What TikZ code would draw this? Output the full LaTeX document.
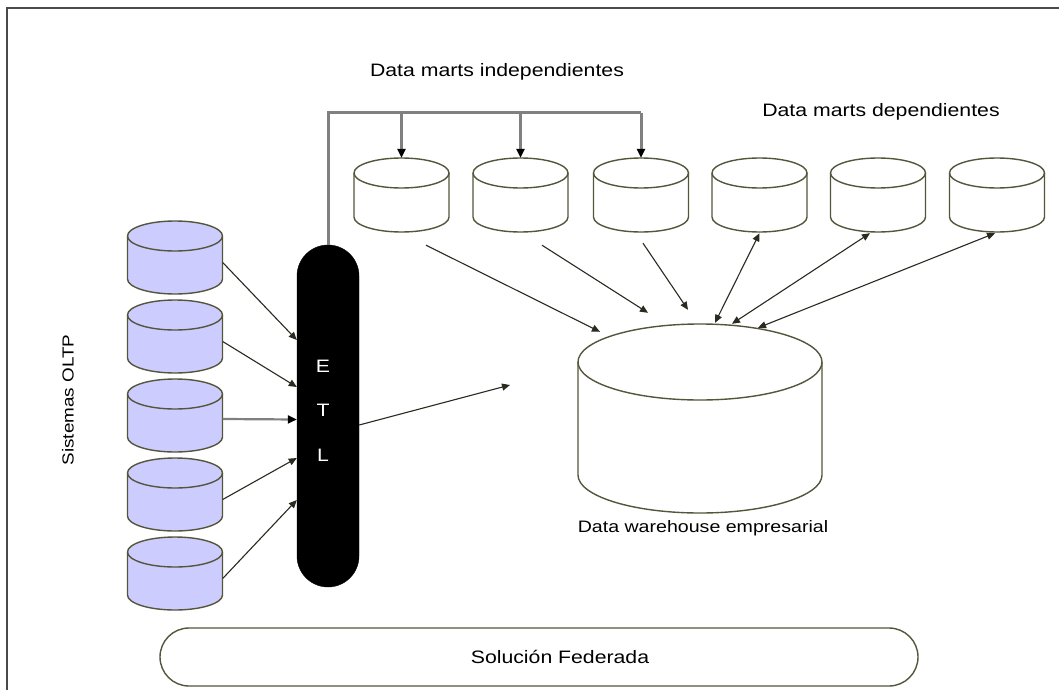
\documentclass[tikz,border=0pt]{standalone}
\usepackage{fontspec}
\usepackage{graphicx}
\usetikzlibrary{arrows.meta,calc}
\newfontfamily\lblfont{Liberation Sans}[FakeStretch=1.18]
\definecolor{oltpfill}{HTML}{CCCCFF}
\definecolor{cyledge}{HTML}{55553C}
\definecolor{conn}{HTML}{2A2A20}
\definecolor{busgray}{HTML}{808080}
\definecolor{framegray}{HTML}{4A4A4A}
\newcommand\dbcyl[7]{% name, cx, top px, rx, ry, total height, fill
  \pgfmathsetmacro\cyA{-(#3)-(#5)}%
  \pgfmathsetmacro\cyB{-(#3)-(#6)+(#5)}%
  \pgfmathsetmacro\cyM{-(#3)-(#6)/2}%
  \node[inner sep=0pt, minimum width={2*#4pt}, minimum height={#6pt}] (#1) at (#2,\cyM) {};
  \filldraw[cylline, fill=#7] (#2-#4,\cyA) -- (#2-#4,\cyB)
    arc[start angle=180, end angle=360, x radius=#4pt, y radius=#5pt]
    -- (#2+#4,\cyA)
    arc[start angle=0, end angle=180, x radius=#4pt, y radius=#5pt] -- cycle;
  \draw[cylline] (#2+#4,\cyA) arc[start angle=0, end angle=-180, x radius=#4pt, y radius=#5pt];
}
\tikzset{
  cylline/.style={draw=cyledge, line width=1.4pt},
  tip/.style={-{Triangle[length=8pt,width=7pt]}},
  btip/.style={-{Triangle[length=9pt,width=8pt,color=black]}},
  dtip/.style={{Triangle[length=8pt,width=7pt]}-{Triangle[length=8pt,width=7pt]}},
  conn/.style={draw=conn, line width=1.1pt},
  bus/.style={draw=busgray, line width=3pt},
  lbl/.style={font=\lblfont\fontsize{18}{20}\selectfont, text=black, inner sep=0pt},
  etlbox/.style={draw=black, fill=black, rounded corners=31pt, minimum width=62pt, minimum height=342pt, inner sep=0pt},
  etltext/.style={font=\lblfont\fontsize{18}{20}\selectfont, text=white, inner sep=0pt},
  fedbox/.style={draw=cyledge, line width=1.4pt, rounded corners=29pt, minimum width=758pt, minimum height=58pt, inner sep=0pt, font=\lblfont\fontsize{18}{20}\selectfont},
}
\begin{document}
\begin{tikzpicture}[x=1pt,y=1pt]
\useasboundingbox (0,0) rectangle (1059,-690);
\fill[white] (0,0) rectangle (1059,-690);
% frame
\draw[framegray, line width=2pt] (1059,-8) -- (7,-8) -- (7,-690);

% OLTP cylinders
\dbcyl{o1}{175}{221}{47.5}{15}{73}{oltpfill}
\dbcyl{o2}{175}{300}{47.5}{15}{73}{oltpfill}
\dbcyl{o3}{175}{379}{47.5}{15}{73}{oltpfill}
\dbcyl{o4}{175}{458}{47.5}{15}{73}{oltpfill}
\dbcyl{o5}{175}{537}{47.5}{15}{73}{oltpfill}

% data marts
\dbcyl{dmA}{401.5}{158}{47.5}{15}{74}{white}
\dbcyl{dmB}{520.5}{158}{47.5}{15}{74}{white}
\dbcyl{dmC}{641}{158}{47.5}{15}{74}{white}
\dbcyl{dmD}{759.5}{158}{47.5}{15}{74}{white}
\dbcyl{dmE}{878}{158}{47.5}{15}{74}{white}
\dbcyl{dmF}{997}{158}{47.5}{15}{74}{white}

% data warehouse
\dbcyl{dw}{700}{324}{122}{38}{189}{white}

% ETL
\node[etlbox] (etl) at (328,-416) {};
\node[etltext] (etlE) at (323,-366) {E};
\node[etltext] (etlT) at (323,-410) {T};
\node[etltext] (etlL) at (323,-455) {L};

% labels
\node[lbl] (lindep) at (497,-72) {Data marts independientes};
\node[lbl] (ldep) at (881,-112) {Data marts dependientes};
\node[lbl, font=\lblfont\fontsize{16}{18}\selectfont, rotate=90] (loltp) at (68,-400) {Sistemas OLTP};
\node[lbl, font=\lblfont\fontsize{16.6}{18}\selectfont] (ldw) at (703,-528) {Data warehouse empresarial};
\node[fedbox] (fed) at (539,-657) {\hspace*{42pt}Solución Federada};

% OLTP -> ETL
\draw[conn, tip] ($(o1.east)+(0,-5)$) -- ($(etl.west)+(0,76)$);
\draw[conn, tip] ($(o2.east)+(0,-5)$) -- ($(etl.west)+(0,29)$);
\draw[draw=busgray, line width=2.2pt, btip] ($(o3.east)+(0,-3.5)$) -- ($(etl.west)+(0,-3.5)$);
\draw[conn, tip] ($(o4.east)+(0,-5)$) -- ($(etl.west)+(0,-42)$);
\draw[conn, tip] ($(o5.east)+(0,-5)$) -- ($(etl.west)+(0,-84)$);

% ETL bus to independent data marts
\coordinate (busy) at ($(dmA.north)+(0,45)$);
\draw[bus] (etl.north) |- (dmC.north |- busy);
\draw[bus, btip] (dmA.north |- busy) -- (dmA.north);
\draw[bus, btip] (dmB.north |- busy) -- (dmB.north);
\draw[bus, btip] (dmC.north |- busy) -- (dmC.north);

% ETL -> free end
\coordinate (etlout) at (510,-385);
\draw[conn, tip] ($(etl.east)+(0,-9)$) -- (etlout);

% independent marts -> DW
\draw[conn, tip] ($(dmA.south)+(24.5,-13)$) -- ($(dw.north)+(-100,-8)$);
\draw[conn, tip] ($(dmB.south)+(21.5,-13)$) -- ($(dw.north)+(-52,11)$);
\draw[conn, tip] ($(dmC.south)+(2,-11)$) -- ($(dw.north)+(-12,14)$);

% DW <-> dependent marts
\draw[conn, dtip] ($(dw.north)+(15,1)$) -- ($(dmD.south)+(0,-1)$);
\draw[conn, dtip] ($(dw.north)+(32,0)$) -- ($(dmE.south)+(-8,-1)$);
\draw[conn, dtip] ($(dw.north)+(58,-4)$) -- ($(dmF.south)+(-2,-1)$);
\end{tikzpicture}
\end{document}
